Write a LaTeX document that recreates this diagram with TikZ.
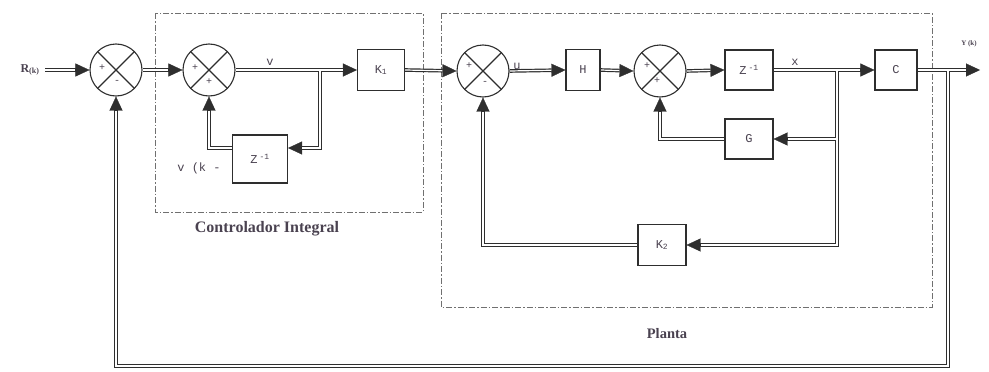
\documentclass[tikz,border=0pt]{standalone}
\usepackage{fontspec}
\setmainfont{Liberation Serif}
\setmonofont{Liberation Mono}
\usetikzlibrary{arrows.meta,calc}
\pgfdeclarelayer{bg}
\pgfsetlayers{bg,main}
\definecolor{ink}{HTML}{2E2E2E}
\definecolor{txt}{HTML}{4A4250}
\definecolor{dashc}{HTML}{707070}
\newcommand\sigpaths{%
  \draw[sig,arr] (rin) -- (s1.west);
  \draw[sig,arr] (s1.east) -- (s2.west);
  \draw[sig,arr] (s2.east) -- (k1.west);
  \draw[sig,arr] (b1) |- (zf.east |- fy);
  \draw[sig,arr] (zf.west |- fy) -| (s2.south);
  \draw[sig,arr] (k1.east) -- (s3.west);
  \draw[sig,arr] (s3.east) -- (h.west);
  \draw[sig,arr] (h.east) -- (s4.west);
  \draw[sig,arr] (s4.east) -- (z2.west);
  \draw[sig,arr] (z2.east) -- (c.west);
  \draw[sig,arr] (c.east) -- (yout);
  \draw[sig,arr] (b2) |- (k2.east);
  \draw[sig,arr] (b2 |- g.east) -- (g.east);
  \draw[sig,arr] (g.west) -| (s4.south);
  \draw[sig,arr] (k2.west) -| (s3.south);
  \draw[sig,arr] (b3) -- (b3 |- bot) -| (s1.south);
}
\begin{document}
\begin{tikzpicture}[x=1pt,y=-1pt,
  sumnode/.style={circle,draw=ink,line width=1.1pt,fill=white,minimum size=52pt,inner sep=0pt,
    path picture={\draw[ink,line width=1.1pt]
      ($(path picture bounding box.center)+(45:30)$) -- ($(path picture bounding box.center)+(225:30)$)
      ($(path picture bounding box.center)+(135:30)$) -- ($(path picture bounding box.center)+(315:30)$);}},
  blk/.style={rectangle,draw=ink,line width=1.1pt,fill=white,inner sep=0pt,text=txt,font=\ttfamily\fontsize{12}{13}\selectfont},
  sgn/.style={text=txt,font=\ttfamily\fontsize{10}{11}\selectfont,inner sep=0pt},
  lbl/.style={text=txt,font=\ttfamily\fontsize{12}{13}\selectfont,inner sep=0pt},
  grp/.style={draw=dashc,line width=1pt,dash pattern=on 6pt off 2pt on 1.5pt off 2pt},
  ttl/.style={text=txt,font=\bfseries\fontsize{14.5}{16}\selectfont,inner sep=0pt}]
\useasboundingbox (0,0) rectangle (989,372);
% sums
\node[sumnode] (s1) at (116,70) {};
\node[sumnode] (s2) at (209,70) {};
\node[sumnode] (s3) at (483,71) {};
\node[sumnode] (s4) at (660,71) {};
% blocks
\node[blk,minimum width=47pt,minimum height=41pt] (k1) at (381,70) {K\textsubscript{1}};
\node[blk,minimum width=55pt,minimum height=48pt] (zf) at (260,159) {Z\,\textsuperscript{-1}};
\node[blk,minimum width=34pt,minimum height=41pt] (h) at (583,70) {H};
\node[blk,minimum width=48pt,minimum height=40pt] (z2) at (749,70) {Z\,\textsuperscript{-1}};
\node[blk,minimum width=42pt,minimum height=40pt] (c) at (896,70) {C};
\node[blk,minimum width=48pt,minimum height=40pt] (g) at (749,139) {G};
\node[blk,minimum width=48pt,minimum height=41pt] (k2) at (662,245) {K\textsubscript{2}};
% coordinates
\coordinate (rin) at (45,70);
\coordinate (b1) at (320,70);
\coordinate (fy) at (0,148);
\coordinate (b2) at (837,71);
\coordinate (yout) at (980,70);
\coordinate (b3) at (948,70);
\coordinate (bot) at (0,366);
% signs
\node[sgn] (p1a) at ($(s1.center)+(-14,-2)$) {+};
\node[sgn] (p1b) at ($(s1.center)+(1,12)$) {-};
\node[sgn] (p2a) at ($(s2.center)+(-14,-2)$) {+};
\node[sgn] (p2b) at ($(s2.center)+(0,12)$) {+};
\node[sgn] (p3a) at ($(s3.center)+(-14,-5)$) {+};
\node[sgn] (p3b) at ($(s3.center)+(2,12)$) {-};
\node[sgn] (p4a) at ($(s4.center)+(-13,-5)$) {+};
\node[sgn] (p4b) at ($(s4.center)+(-3,10)$) {+};
% labels
\node[text=txt,font=\bfseries\fontsize{12}{13}\selectfont,inner sep=0pt] (rl) at (30,70) {R\textsubscript{(k)}};
\node[text=txt,font=\bfseries\fontsize{7}{8}\selectfont,inner sep=0pt] (yl) at (969,44) {Y (k)};
\node[lbl] (vl) at (270,62) {v};
\node[lbl] (ul) at (517,66) {u};
\node[lbl] (xl) at (795,62) {x};
\node[lbl] (vk) at (199,168) {v (k -};
\node[ttl,font=\bfseries\fontsize{16}{18}\selectfont] (ci) at (267,229) {Controlador Integral};
\node[ttl] (pl) at (667,334) {Planta};
% groups and connectors
\begin{pgfonlayer}{bg}
\draw[grp] (155,13) rectangle (423,212);
\draw[grp] (441,13) rectangle (932,307);
\begin{scope}[sig/.style={draw=ink,line width=3.6pt},
  arr/.style={-{Triangle[length=14pt,width=13pt,line width=0.3pt]}}]
\sigpaths
\end{scope}
\begin{scope}[sig/.style={draw=white,line width=1.2pt},arr/.style={shorten >=14pt}]
\sigpaths
\end{scope}
\end{pgfonlayer}
\end{tikzpicture}
\end{document}
